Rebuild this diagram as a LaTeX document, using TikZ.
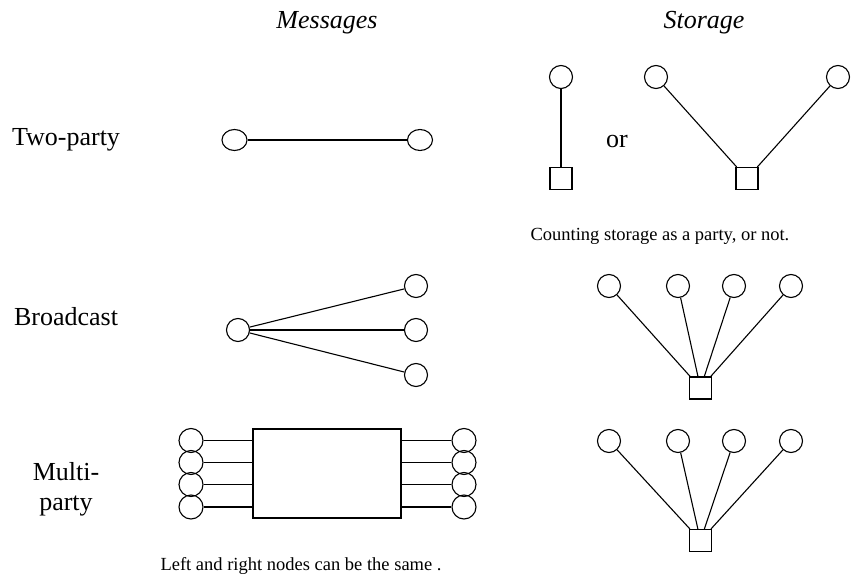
\documentclass[tikz,border=0pt]{standalone}
\usepackage{fontspec}
\setmainfont{Liberation Serif}
\usetikzlibrary{shapes.geometric}
\begin{document}
\begin{tikzpicture}[x=1pt,y=-1pt,line width=1.1pt,
  party/.style={draw,circle,minimum size=23pt,inner sep=0pt},
  oval/.style={draw,ellipse,minimum width=25pt,minimum height=21pt,inner sep=0pt},
  store/.style={draw,rectangle,minimum width=22pt,minimum height=22pt,inner sep=0pt},
  lab/.style={font=\fontsize{26}{30}\selectfont,anchor=base,inner sep=0pt},
  head/.style={font=\fontsize{26}{30}\selectfont\itshape,anchor=base,inner sep=0pt},
  capt/.style={font=\fontsize{18.5}{22}\selectfont,anchor=base west,inner sep=0pt}]
\useasboundingbox (0,0) rectangle (855,578);
% headings
\node[head] (hm) at (327,29) {Messages};
\node[head] (hs) at (704,29) {Storage};
% row labels
\node[lab] (l1) at (66,146) {Two-party};
\node[lab] (l2) at (66,325) {Broadcast};
\node[lab] (l3a) at (66,480) {Multi-};
\node[lab] (l3b) at (66,510) {party};
% two-party messages
\node[oval] (ta) at (234.5,140) {};
\node[oval] (tb) at (420,140) {};
\draw (ta) -- (tb);
% two-party storage
\node[party] (sa) at (561,77) {};
\node[store] (sq1) at (561,178.5) {};
\draw (sa) -- (sq1);
\node[lab] (or) at (617,147) {or};
\node[party] (sb) at (656,77) {};
\node[party] (sc) at (838,77) {};
\node[store] (sq2) at (747,178.5) {};
\draw (sb) -- (sq2);
\draw (sc) -- (sq2);
\node[capt] (c1) at (530,240) {Counting storage as a party, or not.};
% broadcast messages
\node[party] (ba) at (238,330) {};
\foreach \i/\y in {1/286,2/330,3/375}{
  \node[party] (bb\i) at (416,\y) {};
  \draw (ba) -- (bb\i);
}
% broadcast storage
\node[store] (bq) at (700.5,388) {};
\foreach \i/\x in {1/609,2/678,3/734,4/791}{
  \node[party] (bs\i) at (\x,286) {};
  \draw (bs\i) -- (bq);
}
% multi-party messages
\node[draw,rectangle,minimum width=148pt,minimum height=89pt,inner sep=0pt] (box) at (327,473.5) {};
\foreach \i/\y in {1/440.5,2/462.5,3/484.5,4/507}{
  \node[party,minimum size=24pt] (ml\i) at (191,\y) {};
  \node[party,minimum size=24pt] (mr\i) at (464,\y) {};
  \draw (ml\i) -- (ml\i -| box.west);
  \draw (mr\i) -- (mr\i -| box.east);
}
\node[capt] (c2) at (160,570) {Left and right nodes can be the same .};
% multi-party storage
\node[store] (mq) at (700.5,540.5) {};
\foreach \i/\x in {1/609,2/678,3/734,4/791}{
  \node[party] (ms\i) at (\x,441) {};
  \draw (ms\i) -- (mq);
}
\end{tikzpicture}
\end{document}
